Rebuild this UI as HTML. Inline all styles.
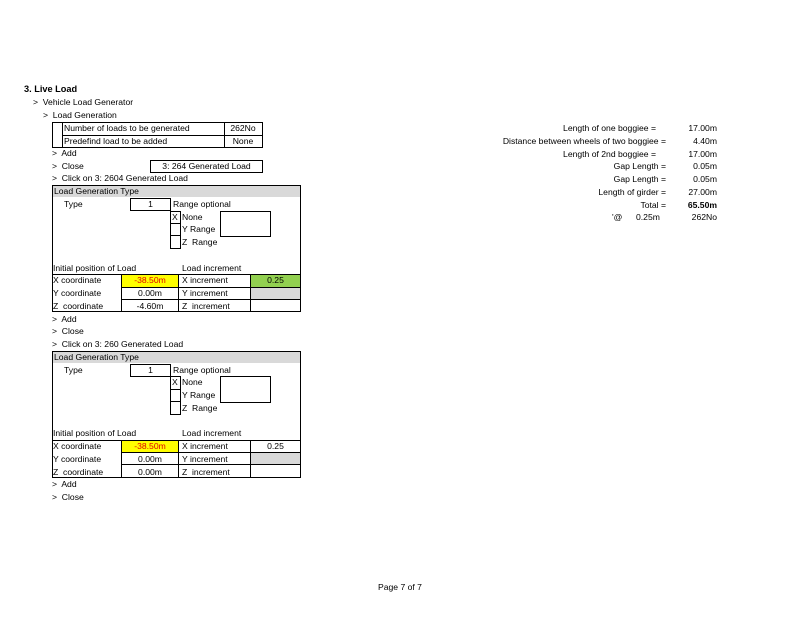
<!DOCTYPE html>
<html><head><meta charset="utf-8"><style>
body{margin:0;width:800px;height:618px;background:#fff;position:relative;overflow:hidden;font-family:"Liberation Sans",sans-serif;font-size:8.6px;color:#000}
.t{position:absolute;white-space:nowrap;line-height:12.75px;height:12.75px}
.b{position:absolute;box-sizing:border-box;border:1px solid #000}
.r{text-align:right}
.c{text-align:center}
</style></head><body>
<div class="t" style="left:24px;top:83px;font-weight:bold;font-size:9.2px">3. Live Load</div>
<div class="t" style="left:33px;top:95.75px">&gt;&nbsp; Vehicle Load Generator</div>
<div class="t" style="left:43px;top:108.5px">&gt;&nbsp; Load Generation</div>

<div class="b" style="left:52px;top:121.5px;width:211px;height:26.5px"></div>
<div class="b" style="left:62px;top:121.5px;width:163px;height:26.5px;border-width:0 1px"></div>
<div class="b" style="left:62px;top:134.5px;width:201px;height:1px;border-width:1px 0 0 0"></div>
<div class="t" style="left:64px;top:122px">Number of loads to be generated</div>
<div class="t" style="left:64px;top:135px">Predefind load to be added</div>
<div class="t c" style="left:224px;top:122px;width:38px">262No</div>
<div class="t c" style="left:224px;top:135px;width:38px">None</div>

<div class="t" style="left:52px;top:146.75px">&gt;&nbsp; Add</div>
<div class="t" style="left:52px;top:159.5px">&gt;&nbsp; Close</div>
<div class="b t c" style="left:150px;top:159.5px;width:113px;height:13px;line-height:11px">3: 264 Generated Load</div>
<div class="t" style="left:52px;top:172.25px">&gt;&nbsp; Click on 3: 2604 Generated Load</div>

<div class="b" style="left:52px;top:185px;width:249px;height:127px"></div>
<div style="position:absolute;left:53px;top:186px;width:247px;height:11px;background:#d9d9d9"></div>
<div class="t" style="left:54px;top:185px">Load Generation Type</div>
<div class="t" style="left:64px;top:197.75px">Type</div>
<div class="b t c" style="left:130px;top:198px;width:41px;height:13px;line-height:11px">1</div>
<div class="t" style="left:173px;top:197.75px">Range optional</div>
<div class="b" style="left:170px;top:210.5px;width:11px;height:38.5px"></div>
<div class="b" style="left:170px;top:223px;width:11px;height:13px;border-width:1px 0"></div>
<div class="t" style="left:172px;top:210.5px">X</div>
<div class="t" style="left:182px;top:210.5px">None</div>
<div class="t" style="left:182px;top:223.25px">Y Range</div>
<div class="t" style="left:182px;top:236px">Z&nbsp; Range</div>
<div class="b" style="left:220px;top:210.5px;width:51px;height:26.5px"></div>
<div class="t" style="left:53px;top:261.5px">Initial position of Load</div>
<div class="t" style="left:182px;top:261.5px">Load increment</div>
<div class="b" style="left:52px;top:274px;width:249px;height:38px;border-width:1px 0 0 0"></div>
<div class="b" style="left:121px;top:274px;width:58px;height:38px;border-width:0 1px"></div>
<div class="b" style="left:250px;top:274px;width:51px;height:38px;border-width:0 0 0 1px"></div>
<div class="b" style="left:121px;top:286.5px;width:180px;height:13px;border-width:1px 0"></div>
<div style="position:absolute;left:122px;top:275px;width:56px;height:11.5px;background:#ffff00"></div>
<div style="position:absolute;left:251px;top:275px;width:49px;height:11.5px;background:#92d050"></div>
<div style="position:absolute;left:251px;top:287.5px;width:49px;height:11px;background:#d9d9d9"></div>
<div class="t" style="left:53px;top:274.25px">X coordinate</div>
<div class="t" style="left:53px;top:287px">Y coordinate</div>
<div class="t" style="left:53px;top:299.75px">Z&nbsp; coordinate</div>
<div class="t c" style="left:121px;top:274.25px;width:58px;color:#e00000">-38.50m</div>
<div class="t c" style="left:121px;top:287px;width:58px">0.00m</div>
<div class="t c" style="left:121px;top:299.75px;width:58px">-4.60m</div>
<div class="t" style="left:182px;top:274.25px">X increment</div>
<div class="t" style="left:182px;top:287px">Y increment</div>
<div class="t" style="left:182px;top:299.75px">Z&nbsp; increment</div>
<div class="t c" style="left:250px;top:274.25px;width:51px">0.25</div>

<div class="t" style="left:52px;top:312.5px">&gt;&nbsp; Add</div>
<div class="t" style="left:52px;top:325.25px">&gt;&nbsp; Close</div>
<div class="t" style="left:52px;top:338px">&gt;&nbsp; Click on 3: 260 Generated Load</div>

<div class="b" style="left:52px;top:350.75px;width:249px;height:127px"></div>
<div style="position:absolute;left:53px;top:351.75px;width:247px;height:11px;background:#d9d9d9"></div>
<div class="t" style="left:54px;top:350.75px">Load Generation Type</div>
<div class="t" style="left:64px;top:363.5px">Type</div>
<div class="b t c" style="left:130px;top:363.75px;width:41px;height:13px;line-height:11px">1</div>
<div class="t" style="left:173px;top:363.5px">Range optional</div>
<div class="b" style="left:170px;top:376.25px;width:11px;height:38.5px"></div>
<div class="b" style="left:170px;top:388.75px;width:11px;height:13px;border-width:1px 0"></div>
<div class="t" style="left:172px;top:376.25px">X</div>
<div class="t" style="left:182px;top:376.25px">None</div>
<div class="t" style="left:182px;top:389px">Y Range</div>
<div class="t" style="left:182px;top:401.75px">Z&nbsp; Range</div>
<div class="b" style="left:220px;top:376.25px;width:51px;height:26.5px"></div>
<div class="t" style="left:53px;top:427.25px">Initial position of Load</div>
<div class="t" style="left:182px;top:427.25px">Load increment</div>
<div class="b" style="left:52px;top:439.75px;width:249px;height:38px;border-width:1px 0 0 0"></div>
<div class="b" style="left:121px;top:439.75px;width:58px;height:38px;border-width:0 1px"></div>
<div class="b" style="left:250px;top:439.75px;width:51px;height:38px;border-width:0 0 0 1px"></div>
<div class="b" style="left:121px;top:452.25px;width:180px;height:13px;border-width:1px 0"></div>
<div style="position:absolute;left:122px;top:440.75px;width:56px;height:11.5px;background:#ffff00"></div>
<div style="position:absolute;left:251px;top:453.25px;width:49px;height:11px;background:#d9d9d9"></div>
<div class="t" style="left:53px;top:440px">X coordinate</div>
<div class="t" style="left:53px;top:452.75px">Y coordinate</div>
<div class="t" style="left:53px;top:465.5px">Z&nbsp; coordinate</div>
<div class="t c" style="left:121px;top:440px;width:58px;color:#e00000">-38.50m</div>
<div class="t c" style="left:121px;top:452.75px;width:58px">0.00m</div>
<div class="t c" style="left:121px;top:465.5px;width:58px">0.00m</div>
<div class="t" style="left:182px;top:440px">X increment</div>
<div class="t" style="left:182px;top:452.75px">Y increment</div>
<div class="t" style="left:182px;top:465.5px">Z&nbsp; increment</div>
<div class="t c" style="left:250px;top:440px;width:51px">0.25</div>
<div class="t" style="left:52px;top:478.25px">&gt;&nbsp; Add</div>
<div class="t" style="left:52px;top:491px">&gt;&nbsp; Close</div>

<div class="t r" style="left:400px;width:256px;top:122px">Length of one boggiee =</div>
<div class="t r" style="left:400px;width:266px;top:134.75px">Distance between wheels of two boggiee =</div>
<div class="t r" style="left:400px;width:256px;top:147.5px">Length of 2nd boggiee =</div>
<div class="t r" style="left:400px;width:266px;top:160.25px">Gap Length =</div>
<div class="t r" style="left:400px;width:266px;top:173px">Gap Length =</div>
<div class="t r" style="left:400px;width:266px;top:185.75px">Length of girder =</div>
<div class="t r" style="left:400px;width:266px;top:198.5px">Total =</div>
<div class="t" style="left:612px;top:211.25px">'@</div>
<div class="t" style="left:636px;top:211.25px">0.25m</div>
<div class="t r" style="left:660px;width:57px;top:122px">17.00m</div>
<div class="t r" style="left:660px;width:57px;top:134.75px">4.40m</div>
<div class="t r" style="left:660px;width:57px;top:147.5px">17.00m</div>
<div class="t r" style="left:660px;width:57px;top:160.25px">0.05m</div>
<div class="t r" style="left:660px;width:57px;top:173px">0.05m</div>
<div class="t r" style="left:660px;width:57px;top:185.75px">27.00m</div>
<div class="t r" style="left:660px;width:57px;top:198.5px;font-weight:bold">65.50m</div>
<div class="t r" style="left:660px;width:57px;top:211.25px">262No</div>

<div class="t" style="left:378px;top:581px">Page 7 of 7</div>
</body></html>
